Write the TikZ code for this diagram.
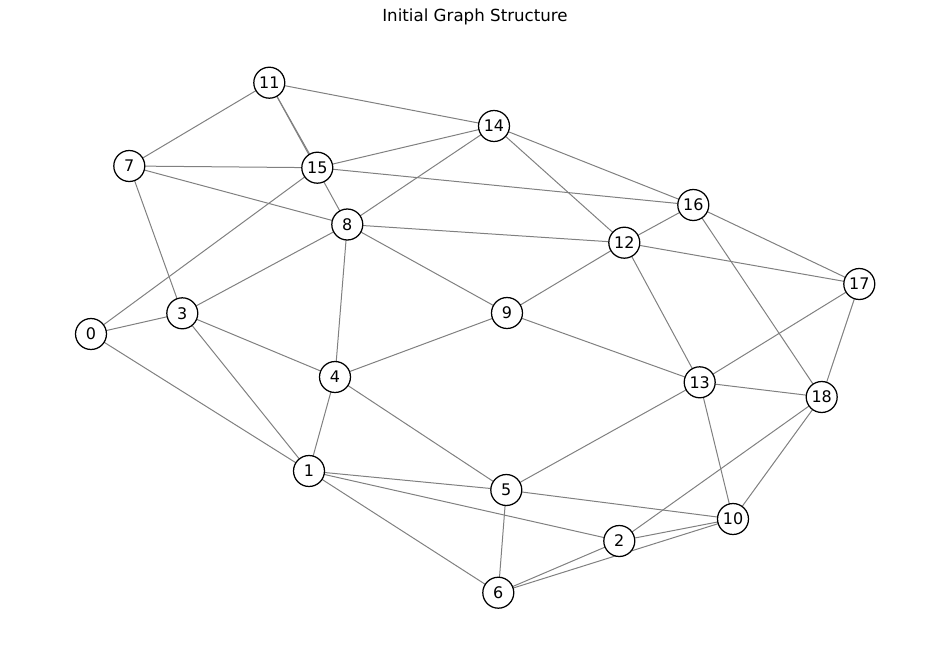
\documentclass[tikz,border=0pt]{standalone}
\usepackage{fontspec}
\setmainfont{DejaVu Sans}
\begin{document}
\begin{tikzpicture}[x=0.72pt,y=-0.72pt,
  vtx/.style={circle,draw=black,fill=white,line width=0.9pt,minimum size=22.3pt,inner sep=0pt,font=\fontsize{11.5}{12}\selectfont},
  edge/.style={draw=gray,line width=0.72pt}]
\useasboundingbox (0,0) rectangle (950,656);
\node[font=\fontsize{12}{14}\selectfont] (title) at (475,17) {Initial Graph Structure};
\coordinate (p0) at (91,334);
\coordinate (p1) at (309,471);
\coordinate (p2) at (619.3,541);
\coordinate (p3) at (182.3,313.3);
\coordinate (p4) at (335,377);
\coordinate (p5) at (506.3,490);
\coordinate (p6) at (498.3,592.7);
\coordinate (p7) at (129.3,166);
\coordinate (p8) at (347.3,224.5);
\coordinate (p9) at (507,313);
\coordinate (p10) at (733,519);
\coordinate (p11) at (269.3,82.7);
\coordinate (p12) at (624.3,242.7);
\coordinate (p13) at (699.7,382.3);
\coordinate (p14) at (494,126);
\coordinate (p15) at (317.3,167.7);
\coordinate (p16) at (693.3,205);
\coordinate (p17) at (859.3,284);
\coordinate (p18) at (821.7,397);
\foreach \a/\b in {11/14,11/7,11/15,11/8,7/15,7/8,7/3,15/14,15/16,15/0,
  14/8,14/12,14/16,8/12,8/3,8/4,8/9,16/12,16/17,16/18,12/17,12/9,12/13,
  17/13,17/18,0/3,0/1,3/4,3/1,9/4,9/13,4/1,4/5,13/18,13/5,13/10,18/10,18/2,
  1/5,1/2,1/6,5/10,5/6,2/10,2/6,6/10}
  \draw[edge] (p\a) -- (p\b);
\foreach \i in {0,...,18}
  \node[vtx] (n\i) at (p\i) {\i};
\end{tikzpicture}
\end{document}
